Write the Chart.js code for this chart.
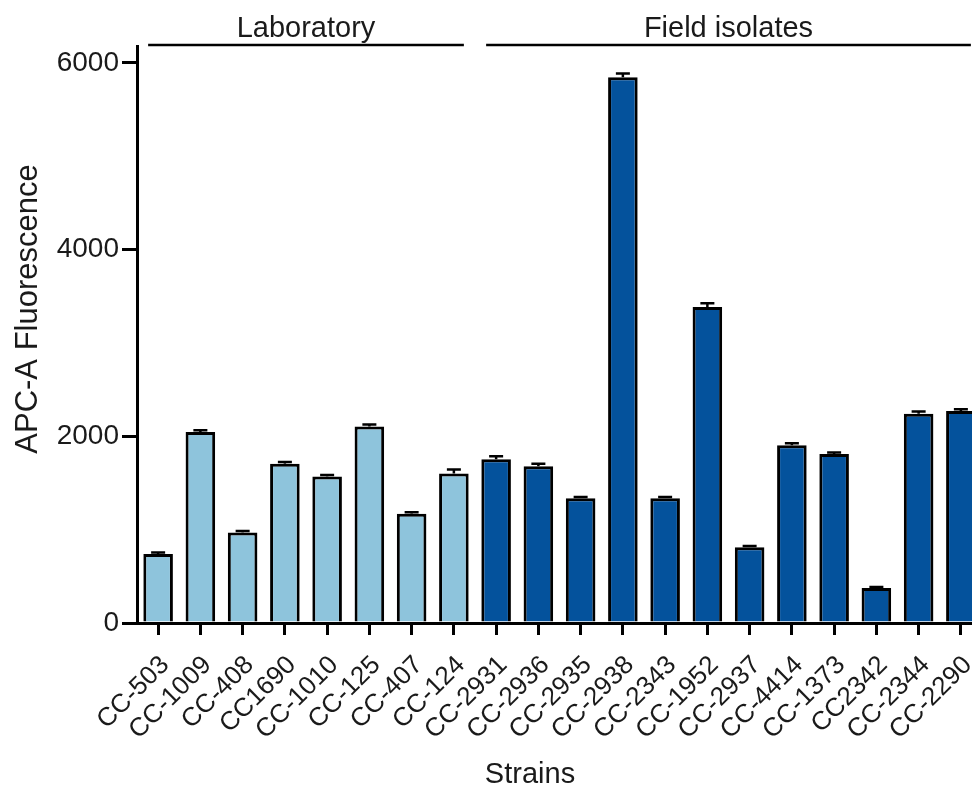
<!DOCTYPE html>
<html>
<head>
<meta charset="utf-8">
<script src="https://cdn.jsdelivr.net/npm/chart.js@4/dist/chart.umd.min.js"></script>
<style>
  html, body { margin: 0; padding: 0; background: #fff; overflow: hidden; }
  #wrap { position: relative; width: 982px; height: 791px; }
</style>
</head>
<body>
<div id="wrap"><canvas id="strainChart"></canvas></div>
<script>
// Strain groups and their mean APC-A fluorescence (+ error)
const labStrains = ['CC-503', 'CC-1009', 'CC-408', 'CC1690', 'CC-1010', 'CC-125', 'CC-407', 'CC-124'];
const fieldStrains = ['CC-2931', 'CC-2936', 'CC-2935', 'CC-2938', 'CC-2343', 'CC-1952', 'CC-2937', 'CC-4414', 'CC-1373', 'CC2342', 'CC-2344', 'CC-2290'];
const labValues = [740, 2045, 970, 1705, 1570, 2105, 1170, 1600];
const fieldValues = [1755, 1680, 1335, 5845, 1335, 3385, 810, 1905, 1810, 375, 2240, 2270];
const labErrors = [15, 20, 15, 20, 15, 20, 15, 45];
const fieldErrors = [30, 25, 15, 40, 15, 40, 15, 20, 15, 10, 25, 20];
const yTicks = [0, 2000, 4000, 6000];

const LIGHT = '#8ec4dc';
const DARK = '#04529c';
const INK = '#1a1a1a';
const FONT = "'Liberation Sans', Arial, sans-serif";

const labels = labStrains.concat(fieldStrains);
const values = labValues.concat(fieldValues);
const errors = labErrors.concat(fieldErrors);
const colors = labels.map((l, i) => i < labStrains.length ? LIGHT : DARK);

// error bars + group brackets + axis titles
const extras = {
    id: 'extras',
    afterDatasetsDraw(chart) {
        const { ctx, scales: { x, y } } = chart;
        const meta = chart.getDatasetMeta(0);
        ctx.save();
        ctx.strokeStyle = '#000';
        ctx.lineWidth = 2.5;
        meta.data.forEach((bar, i) => {
            const top = y.getPixelForValue(values[i] + errors[i]);
            const mid = y.getPixelForValue(values[i]);
            ctx.beginPath();
            ctx.moveTo(bar.x, mid);
            ctx.lineTo(bar.x, top);
            ctx.moveTo(bar.x - 7, top);
            ctx.lineTo(bar.x + 7, top);
            ctx.stroke();
        });

        // group brackets
        const groups = [
            { name: 'Laboratory', from: 0, to: labStrains.length - 1 },
            { name: 'Field isolates', from: labStrains.length, to: labels.length - 1 }
        ];
        ctx.lineWidth = 2.5;
        ctx.fillStyle = INK;
        ctx.font = '29px ' + FONT;
        ctx.textAlign = 'center';
        ctx.textBaseline = 'alphabetic';
        groups.forEach(g => {
            const x0 = x.getPixelForValue(g.from) - 10;
            const x1 = x.getPixelForValue(g.to) + 10;
            ctx.beginPath();
            ctx.moveTo(x0, 45);
            ctx.lineTo(x1, 45);
            ctx.stroke();
            ctx.fillText(g.name, (x0 + x1) / 2, 37);
        });

        // axis titles
        ctx.font = '29px ' + FONT;
        ctx.fillText('Strains', 530, 783);
        ctx.translate(37, 309);
        ctx.rotate(-Math.PI / 2);
        ctx.font = '31px ' + FONT;
        ctx.fillText('APC-A Fluorescence', 0, 0);
        ctx.restore();
    }
};

new Chart(document.getElementById('strainChart'), {
    type: 'bar',
    data: {
        labels: labels,
        datasets: [{
            data: values,
            backgroundColor: colors,
            borderColor: '#000',
            borderWidth: 3,
            borderSkipped: 'start',
            barPercentage: 0.7,
            categoryPercentage: 1
        }]
    },
    options: {
        responsive: true,
        maintainAspectRatio: false,
        animation: false,
        layout: { padding: { top: 46, left: 0, right: 0, bottom: 0 } },
        plugins: {
            legend: { display: false },
            tooltip: { enabled: false }
        },
        scales: {
            x: {
                afterFit(s) {
                    s.height = 168;
                    s.paddingLeft = 0;
                    s.paddingRight = 0;
                },
                grid: {
                    offset: false,
                    drawOnChartArea: false,
                    color: '#000',
                    lineWidth: 3,
                    tickLength: 12
                },
                border: { color: '#000', width: 3 },
                ticks: {
                    color: INK,
                    font: { family: FONT, size: 26 },
                    maxRotation: 45,
                    minRotation: 45,
                    autoSkip: false,
                    padding: 15,
                    labelOffset: 7
                }
            },
            y: {
                min: 0,
                max: 6180,
                afterFit(s) {
                    s.width = 137;
                    s.paddingTop = 0;
                    s.paddingBottom = 0;
                },
                afterBuildTicks(s) { s.ticks = yTicks.map(v => ({ value: v })); },
                grid: {
                    drawOnChartArea: false,
                    color: '#000',
                    lineWidth: 3,
                    tickLength: 15
                },
                border: { color: '#000', width: 3 },
                ticks: {
                    color: INK,
                    font: { family: FONT, size: 28 },
                    padding: 3,
                    callback: v => String(v)
                }
            }
        }
    },
    plugins: [extras]
});
</script>
</body>
</html>
